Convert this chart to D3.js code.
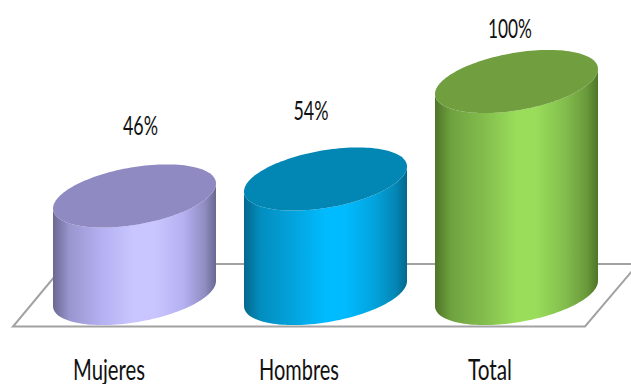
<!DOCTYPE html>
<html>
<head>
<meta charset="utf-8">
<script src="https://cdn.jsdelivr.net/npm/d3@7"></script>
<style>
  html, body { margin: 0; padding: 0; background: #fff; }
  svg { display: block; }
  text { font-family: Lato, "Open Sans", sans-serif; fill: #111; }
</style>
</head>
<body>
<script>
const categories = ["Mujeres", "Hombres", "Total"];
const values = [46, 54, 100];
const valueLabels = ["46%", "54%", "100%"];
const topColours = ["#8f8bc2", "#0287b5", "#719e3e"];
const edgeColours = ["#6a6892", "#04688c", "#4f7528"];
const midColours = ["#b5b1f2", "#03a3dd", "#83bd4d"];
const glowColours = ["#c9c6ff", "#00bbff", "#99dd5a"];

const width = 631, height = 384;
const svg = d3.select("body").append("svg").attr("width", width).attr("height", height);

const x = d3.scaleBand().domain(categories).range([53, 598]).paddingInner(0.1466).paddingOuter(0);
const y = d3.scaleLinear().domain([0, 100]).range([293.5, 81.5]);

// Tilted disc: half-height of the ellipse plus the rise from left rim to right rim
const rx = x.bandwidth() / 2, discB = 29, discTilt = 12.5;
const discPoint = (cx, cy, t) => [cx + rx * Math.cos(t), cy - discTilt * Math.cos(t) + discB * Math.sin(t)];
const discAngles = d3.range(0, 2 * Math.PI + 0.01, Math.PI / 72);
const line = d3.line();

// Floor plate behind the cylinders
svg.append("path")
  .attr("d", line([[13, 326.5], [585, 326.5], [638, 264], [65, 264]]) + "Z")
  .attr("fill", "#fff").attr("stroke", "#a2a2a2").attr("stroke-width", 2);

const defs = svg.append("defs");
categories.forEach((c, i) => {
  const g = defs.append("linearGradient").attr("id", "body" + i);
  [[0, edgeColours[i]], [0.1, d3.interpolateRgb(edgeColours[i], midColours[i])(0.62)], [0.3, midColours[i]],
   [0.5, glowColours[i]], [0.62, glowColours[i]], [0.8, midColours[i]],
   [0.93, d3.interpolateRgb(edgeColours[i], midColours[i])(0.5)], [1, edgeColours[i]]]
    .forEach(([o, col]) => g.append("stop").attr("offset", o).attr("stop-color", col));
});

// One cylinder per category: wall from base rim to top rim, then the top disc
const bars = svg.selectAll("g.bar").data(categories).join("g").attr("class", "bar");
bars.each(function (c, i) {
  const cx = x(c) + rx, top = y(values[i]), base = y(0);
  const frontAngles = d3.range(0, Math.PI + 0.01, Math.PI / 72);
  const wall = frontAngles.map(t => discPoint(cx, base, t))
    .concat(frontAngles.slice().reverse().map(t => discPoint(cx, top, t)));
  const g = d3.select(this);
  g.append("path").attr("d", line(wall) + "Z").attr("fill", `url(#body${i})`);
  g.append("path").attr("d", line(discAngles.map(t => discPoint(cx, top, t))) + "Z").attr("fill", topColours[i]);
});

// Condensed text: a regular face squeezed horizontally to a set width
function label(str, cx, baseline, size, targetWidth) {
  const t = svg.append("text").text(str).attr("text-anchor", "middle").attr("font-size", size);
  const sx = targetWidth / t.node().getComputedTextLength();
  t.attr("transform", `translate(${cx},${baseline}) scale(${sx},1)`);
}
const valueLayout = [[140.5, 135, 35], [311, 120, 35], [510, 38, 44]];
const categoryLayout = [[109, 379.5, 72], [299, 379.5, 80], [490, 379.5, 44]];
valueLabels.forEach((s, i) => label(s, valueLayout[i][0], valueLayout[i][1], 27, valueLayout[i][2]));
categories.forEach((c, i) => label(c, categoryLayout[i][0], categoryLayout[i][1], 28, categoryLayout[i][2]));
</script>
</body>
</html>
